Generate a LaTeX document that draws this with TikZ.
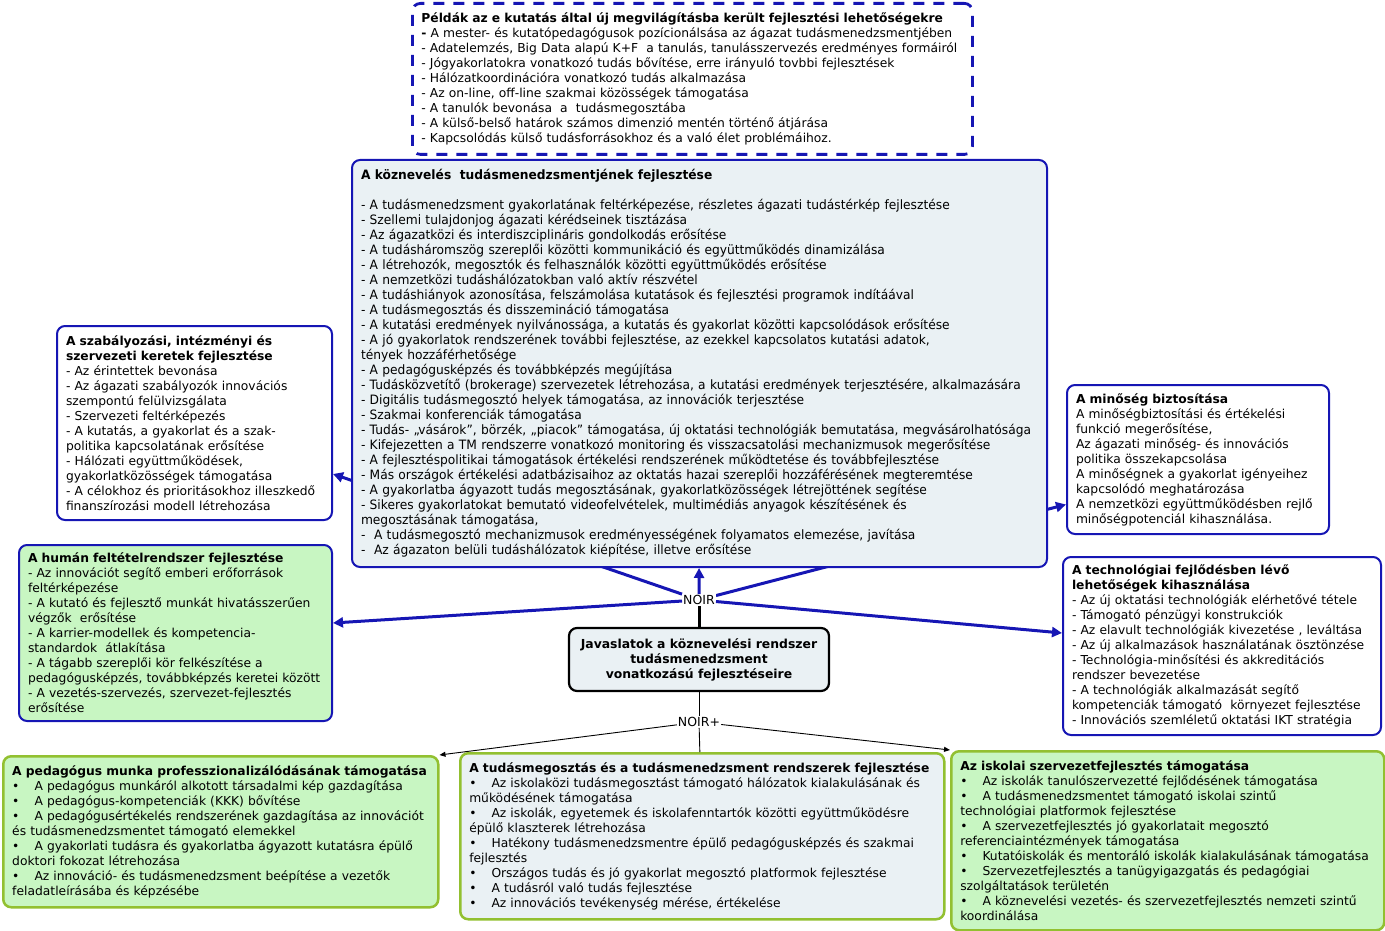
\documentclass[tikz,border=0pt]{standalone}
\usepackage{fontspec}
\setmainfont{DejaVu Sans}
\newfontfamily\szukfont[FakeStretch=0.95]{DejaVu Sans}
\usepackage{tikz}
\usetikzlibrary{arrows.meta}
\usetikzlibrary{positioning}
\usetikzlibrary{backgrounds}
\definecolor{kek}{RGB}{22,22,180}
\definecolor{zold}{RGB}{200,246,194}
\definecolor{olajzold}{RGB}{146,192,48}
\definecolor{szurkekek}{RGB}{234,241,244}
\tikzset{
  tmnode/.style = {align=left, rounded corners=8pt, inner xsep=9pt,
    inner ysep=3pt, anchor=north west, font=\fontsize{12.3}{15}\selectfont},
  tm_k/.style = {tmnode, draw=kek, line width=2pt, fill=white},% kek keret, feher
  tm_z/.style = {tmnode, draw=kek, line width=2pt, fill=zold},% kek keret, zold
  tm_p/.style = {tmnode, draw=kek, line width=2.8pt,
    dash pattern=on 11pt off 9pt, fill=white},% peldak, szaggatott
  tm_a/.style = {tmnode, draw=olajzold, line width=2.5pt},% also sor
  tm_fo/.style = {align=center, rounded corners=8pt, draw=black,
    line width=2.2pt, fill=szurkekek, minimum width=260pt,
    minimum height=63pt, font=\bfseries\fontsize{12.4}{15}\selectfont},% kozponti
  noir/.style = {fill=white, inner sep=1pt, font=\fontsize{12.5}{13}\selectfont},
  kekny/.style = {kek, line width=3pt, -{Triangle[length=10pt,width=10pt]}},
  feketeny/.style = {black, line width=0.9pt, -{Triangle[length=6pt,width=5pt]}}
}
\newcommand{\pont}{\textbullet\hspace{15pt}}

\begin{document}
\begin{tikzpicture}[x=1pt,y=-1pt]
\useasboundingbox (0,0) rectangle (1385,931);

\node [tm_p, text width=542pt, minimum height=151pt] (pelda) at (411,2) {%
\textbf{Példák az e kutatás által új megvilágításba került fejlesztési lehetőségekre}\\
\textbf{-} A mester- és kutatópedagógusok pozícionálsása az ágazat tudásmenedzsmentjében\\
- Adatelemzés, Big Data alapú K+F~ a tanulás, tanulásszervezés eredményes formáiról\\
- Jógyakorlatokra vonatkozó tudás bővítése, erre irányuló tovbbi fejlesztések\\
- Hálózatkoordinációra vonatkozó tudás alkalmazása\\
- Az on-line, off-line szakmai közösségek támogatása\\
- A tanulók bevonása~ a~ tudásmegosztába\\
- A külső-belső határok számos dimenzió mentén történő átjárása\\
- Kapcsolódás külső tudásforrásokhoz és a való élet problémáihoz.};

\node [tm_k, fill=szurkekek, text width=677pt, minimum height=407pt,
  font=\szukfont\fontsize{12.9}{15}\selectfont] (koz) at (351,159) {%
\textbf{A köznevelés~ tudásmenedzsmentjének fejlesztése}\\[15pt]
- A tudásmenedzsment gyakorlatának feltérképezése, részletes ágazati tudástérkép fejlesztése\\
- Szellemi tulajdonjog ágazati kérédseinek tisztázása\\
- Az ágazatközi és interdiszciplináris gondolkodás erősítése\\
- A tudásháromszög szereplői közötti kommunikáció és együttműködés dinamizálása\\
- A létrehozók, megosztók és felhasználók közötti együttműködés erősítése\\
- A nemzetközi tudáshálózatokban való aktív részvétel\\
- A tudáshiányok azonosítása, felszámolása kutatások és fejlesztési programok indítáával\\
- A tudásmegosztás és disszemináció támogatása\\
- A kutatási eredmények nyilvánossága, a kutatás és gyakorlat közötti kapcsolódások erősítése\\
- A jó gyakorlatok rendszerének további fejlesztése, az ezekkel kapcsolatos kutatási adatok,\\
tények hozzáférhetősége\\
- A pedagógusképzés és továbbképzés megújítása\\
- Tudásközvetítő (brokerage) szervezetek létrehozása, a kutatási eredmények terjesztésére, alkalmazására\\
- Digitális tudásmegosztó helyek támogatása, az innovációk terjesztése\\
- Szakmai konferenciák támogatása\\
- Tudás- „vásárok”, börzék, „piacok” támogatása, új oktatási technológiák bemutatása, megvásárolhatósága\\
- Kifejezetten a TM rendszerre vonatkozó monitoring és visszacsatolási mechanizmusok megerősítése\\
- A fejlesztéspolitikai támogatások értékelési rendszerének működtetése és továbbfejlesztése\\
- Más országok értékelési adatbázisaihoz az oktatás hazai szereplői hozzáférésének megteremtése\\
- A gyakorlatba ágyazott tudás megosztásának, gyakorlatközösségek létrejöttének segítése\\
- Sikeres gyakorlatokat bemutató videofelvételek, multimédiás anyagok készítésének és\\
megosztásának támogatása,\\
-~ A tudásmegosztó mechanizmusok eredményességének folyamatos elemezése, javítása\\
-~ Az ágazaton belüli tudáshálózatok kiépítése, illetve erősítése};

\node [tm_k, text width=257pt, minimum height=194pt] (szab) at (56,325) {%
\textbf{A szabályozási, intézményi és}\\
\textbf{szervezeti keretek fejlesztése}\\
- Az érintettek bevonása\\
- Az ágazati szabályozók innovációs\\
szempontú felülvizsgálata\\
- Szervezeti feltérképezés\\
- A kutatás, a gyakorlat és a szak-\\
politika kapcsolatának erősítése\\
- Hálózati együttműködések,\\
gyakorlatközösségek támogatása\\
- A célokhoz és prioritásokhoz illeszkedő\\
finanszírozási modell létrehozása};

\node [tm_z, text width=295pt, minimum height=176pt] (human) at (18,544) {%
\textbf{A humán feltételrendszer fejlesztése}\\
- Az innovációt segítő emberi erőforrások\\
feltérképezése\\
- A kutató és fejlesztő munkát hivatásszerűen\\
végzők~ erősítése\\
- A karrier-modellek és kompetencia-\\
standardok~ átlakítása\\
- A tágabb szereplői kör felkészítése a\\
pedagógusképzés, továbbképzés keretei között\\
- A vezetés-szervezés, szervezet-fejlesztés\\
erősítése};

\node [tm_k, text width=244pt, minimum height=149pt] (minoseg) at (1066,384) {%
\textbf{A minőség biztosítása}\\
A minőségbiztosítási és értékelési\\
funkció megerősítése,\\
Az ágazati minőség- és innovációs\\
politika összekapcsolása\\
A minőségnek a gyakorlat igényeihez\\
kapcsolódó meghatározása\\
A nemzetközi együttműködésben rejlő\\
minőségpotenciál kihasználása.};

\node [tm_k, text width=300pt, minimum height=178pt] (tech) at (1062,556) {%
\textbf{A technológiai fejlődésben lévő}\\
\textbf{lehetőségek kihasználása}\\
- Az új oktatási technológiák elérhetővé tétele\\
- Támogató pénzügyi konstrukciók\\
- Az elavult technológiák kivezetése , leváltása\\
- Az új alkalmazások használatának ösztönzése\\
- Technológia-minősítési és akkreditációs\\
rendszer bevezetése\\
- A technológiák alkalmazását segítő\\
kompetenciák támogató~ környezet fejlesztése\\
- Innovációs szemléletű oktatási IKT stratégia};

\node [tm_fo] (javaslat) at (699,659.5) {Javaslatok a köznevelési rendszer\\
tudásmenedzsment\\ vonatkozású fejlesztéseire};

\node [tm_a, fill=zold, text width=417pt, minimum height=151pt] (bal) at (2,755) {%
\textbf{A pedagógus munka professzionalizálódásának támogatása}\\
\pont A pedagógus munkáról alkotott társadalmi kép gazdagítása\\
\pont A pedagógus-kompetenciák (KKK) bővítése\\
\pont A pedagógusértékelés rendszerének gazdagítása az innovációt\\
és tudásmenedzsmentet támogató elemekkel\\
\pont A gyakorlati tudásra és gyakorlatba ágyazott kutatásra épülő\\
doktori fokozat létrehozása\\
\pont Az innováció- és tudásmenedzsment beépítése a vezetők\\
feladatleírásába és képzésébe};

\node [tm_a, fill=szurkekek, text width=466pt, minimum height=166pt] (kozep) at (459,752) {%
\textbf{A tudásmegosztás és a tudásmenedzsment rendszerek fejlesztése}\\
\pont Az iskolaközi tudásmegosztást támogató hálózatok kialakulásának és\\
működésének támogatása\\
\pont Az iskolák, egyetemek és iskolafenntartók közötti együttműködésre\\
épülő klaszterek létrehozása\\
\pont Hatékony tudásmenedzsmentre épülő pedagógusképzés és szakmai\\
fejlesztés\\
\pont Országos tudás és jó gyakorlat megosztó platformok fejlesztése\\
\pont A tudásról való tudás fejlesztése\\
\pont Az innovációs tevékenység mérése, értékelése};

\node [tm_a, fill=zold, text width=415pt, minimum height=179pt] (jobb) at (950,750) {%
\textbf{Az iskolai szervezetfejlesztés támogatása}\\
\pont Az iskolák tanulószervezetté fejlődésének támogatása\\
\pont A tudásmenedzsmentet támogató iskolai szintű\\
technológiai platformok fejlesztése\\
\pont A szervezetfejlesztés jó gyakorlatait megosztó\\
referenciaintézmények támogatása\\
\pont Kutatóiskolák és mentoráló iskolák kialakulásának támogatása\\
\pont Szervezetfejlesztés a tanügyigazgatás és pedagógiai\\
szolgáltatások területén\\
\pont A köznevelési vezetés- és szervezetfejlesztés nemzeti szintű\\
koordinálása};

\node [noir, above=21pt of javaslat] (noir) {NOIR};
\node [noir, below=24pt of javaslat] (noirp) {NOIR+};

\draw [black, line width=3pt] (javaslat) -- (noir);
\draw [kekny] (noir) -- (koz);
\draw [kekny] (noir) -- ([yshift=10pt]human.east);
\draw [kekny] (noir) -- ([yshift=13pt]tech.west);
\begin{scope}[on background layer]
\draw [kekny] (noir) -- ([yshift=-51pt]szab.east);
\draw [kekny] (noir) -- ([yshift=-45pt]minoseg.west);
\end{scope}

\draw [black, line width=0.9pt] (javaslat) -- (noirp);
\draw [black, line width=0.9pt] (noirp) -- (kozep);
\draw [feketeny] (noirp) -- (bal.north east);
\draw [feketeny] (noirp) -- (jobb.north west);
\end{tikzpicture}
\end{document}
